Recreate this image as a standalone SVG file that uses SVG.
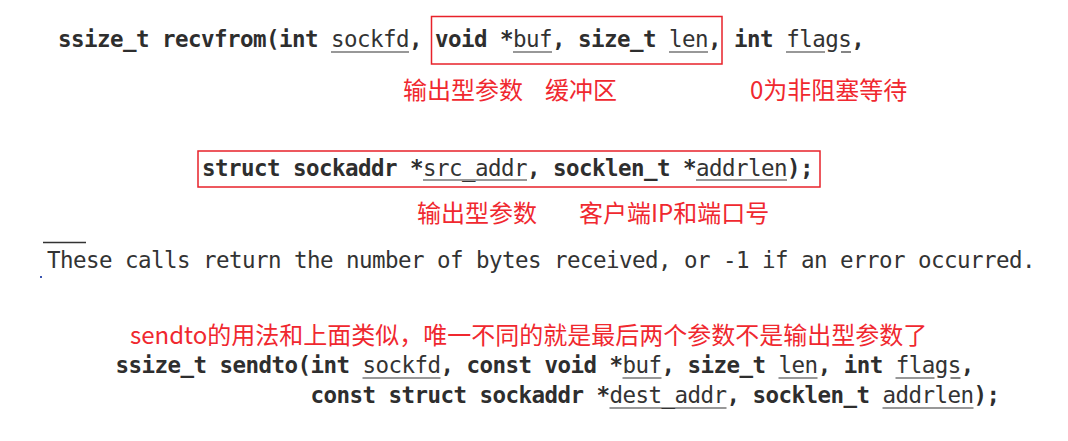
<svg xmlns="http://www.w3.org/2000/svg" width="1068" height="441" viewBox="0 0 1068 441">
  <style>
    .code { font-family: "DejaVu Sans Mono", "Liberation Mono", monospace; font-size: 22.5px; letter-spacing: -0.545px; font-weight: bold; fill: #2e2e2e; }
    .arg { font-weight: normal; fill: #333333; }
    .plain { font-family: "DejaVu Sans Mono", "Liberation Mono", monospace; font-size: 22.5px; letter-spacing: -0.545px; font-weight: normal; fill: #333333; }
    .note { font-family: "Noto Sans CJK SC", "Noto Sans", sans-serif; font-size: 24px; fill: #f0282f; }
    .box { fill: none; stroke: #e8222a; stroke-width: 1.5; }
    .ul { stroke: #333333; stroke-width: 1.2; }
  </style>
  <rect width="1068" height="441" fill="#ffffff"/>

  <g id="recvfrom-line1">
    <rect class="box" x="431.5" y="16.5" width="290.5" height="47.5"/>
    <text class="code" x="58" y="47">ssize_t recvfrom(int <tspan class="arg">sockfd</tspan>, void *<tspan class="arg">buf</tspan>, size_t <tspan class="arg">len</tspan>, int <tspan class="arg">flags</tspan>,</text>
    <g class="ul">
      <line x1="331" y1="52" x2="409" y2="52"/>
      <line x1="513" y1="52" x2="552" y2="52"/>
      <line x1="669" y1="52" x2="708" y2="52"/>
      <line x1="786" y1="52" x2="825" y2="52"/>
      <line x1="841" y1="52" x2="851" y2="52"/>
    </g>
  </g>

  <g id="recvfrom-notes1">
    <text class="note" x="403" y="99">输出型参数</text>
    <text class="note" x="545" y="99">缓冲区</text>
    <text class="note" x="750" y="99">0为非阻塞等待</text>
  </g>

  <g id="recvfrom-line2">
    <rect class="box" x="198" y="151" width="622" height="36"/>
    <text class="code" x="202" y="175.5">struct sockaddr *<tspan class="arg">src_addr</tspan>, socklen_t *<tspan class="arg">addrlen</tspan>);</text>
    <g class="ul">
      <line x1="423" y1="180" x2="527" y2="180"/>
      <line x1="696" y1="180" x2="787" y2="180"/>
    </g>
  </g>

  <g id="recvfrom-notes2">
    <text class="note" x="417" y="221.5">输出型参数</text>
    <text class="note" x="579" y="221.5">客户端IP和端口号</text>
  </g>

  <g id="return-text">
    <line x1="43" y1="242.5" x2="86" y2="242.5" stroke="#333333" stroke-width="1.5"/>
    <text class="plain" x="47" y="268">These calls return the number of bytes received, or -1 if an error occurred.</text>
    <rect x="40" y="276" width="2" height="2" fill="#3a55b0"/>
  </g>

  <g id="sendto-note">
    <text class="note" x="130" y="344">sendto的用法和上面类似，唯一不同的就是最后两个参数不是输出型参数了</text>
  </g>

  <g id="sendto-line1">
    <text class="code" x="115.5" y="373">ssize_t sendto(int <tspan class="arg">sockfd</tspan>, const void *<tspan class="arg">buf</tspan>, size_t <tspan class="arg">len</tspan>, int <tspan class="arg">flags</tspan>,</text>
    <g class="ul">
      <line x1="362.5" y1="378" x2="440.5" y2="378"/>
      <line x1="622.5" y1="378" x2="661.5" y2="378"/>
      <line x1="778.5" y1="378" x2="817.5" y2="378"/>
      <line x1="895.5" y1="378" x2="934.5" y2="378"/>
      <line x1="950.5" y1="378" x2="960.5" y2="378"/>
    </g>
  </g>

  <g id="sendto-line2">
    <text class="code" x="310.5" y="403">const struct sockaddr *<tspan class="arg">dest_addr</tspan>, socklen_t <tspan class="arg">addrlen</tspan>);</text>
    <g class="ul">
      <line x1="609.5" y1="408" x2="726.5" y2="408"/>
      <line x1="882.5" y1="408" x2="973.5" y2="408"/>
    </g>
  </g>
</svg>
